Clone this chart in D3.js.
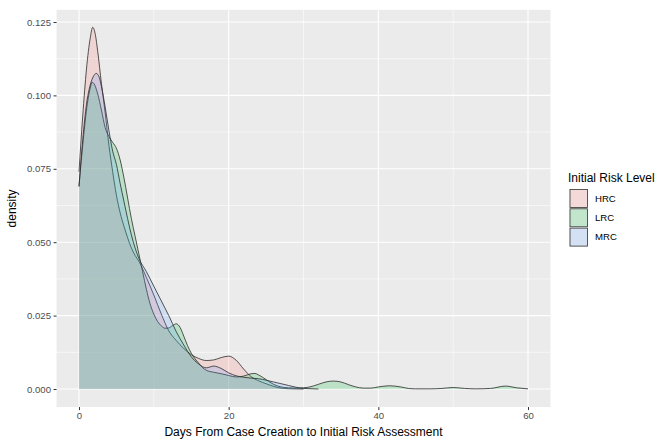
<!DOCTYPE html>
<html><head><meta charset="utf-8">
<script src="https://cdn.jsdelivr.net/npm/d3@7"></script>
<style>html,body{margin:0;padding:0;background:#fff;}svg{display:block;font-family:"Liberation Sans",Arial,sans-serif;}</style>
</head><body><svg id="c" width="657" height="440"></svg>
<script>
const seriesNames = ["HRC", "LRC", "MRC"];
const seriesColors = ["#F8766D", "#00BA38", "#619CFF"];
const xTicks = [0, 20, 40, 60];
const yTicks = [0, 0.025, 0.05, 0.075, 0.1, 0.125];
const yTickLabels = ["0.000", "0.025", "0.050", "0.075", "0.100", "0.125"];

const hrcDays = [0,0.5,1,1.5,1.83,2.2,2.5,3,3.5,4,4.5,5,5.5,6,6.5,7,7.5,8,9,10,11,12,13,14,15,16,17,18,19,20,21,22,23,24,25,26,27,28,29,30];
const hrcDensity = [0.074,0.093,0.109,0.1195,0.1232,0.1205,0.115,0.104,0.094,0.083,0.074,0.066,0.060,0.0555,0.0515,0.048,0.0455,0.0435,0.038,0.032,0.0255,0.0198,0.0165,0.0138,0.0117,0.0104,0.0097,0.0099,0.0107,0.0112,0.0098,0.0068,0.0042,0.0028,0.0018,0.0009,0.0003,0.0001,0.00003,0];

const lrcDays = [0,0.5,1,1.5,1.75,2,2.5,3,3.5,4,4.5,5,5.5,6,6.5,7,7.5,8,8.5,9,9.5,10,10.5,11,11.5,12,12.5,13,13.5,14,14.5,15,15.5,16,16.5,17,18,19,20,21,22,23,23.5,24,25,26,27,28,29,30,31,32,33,34,35,36,37,38,39,40,41.5,43,44,45,47,48.5,50,51.5,53,55,57,58.5,60];
const lrcDensity = [0.069,0.083,0.095,0.1025,0.1045,0.104,0.1005,0.095,0.089,0.086,0.084,0.082,0.078,0.072,0.065,0.058,0.052,0.046,0.040,0.034,0.029,0.0255,0.023,0.0215,0.0207,0.0208,0.0216,0.0222,0.021,0.018,0.0148,0.0122,0.0103,0.0088,0.0073,0.0064,0.0057,0.0052,0.0046,0.0041,0.0044,0.0052,0.0053,0.0048,0.0032,0.0016,0.0007,0.0004,0.0003,0.0004,0.0008,0.0016,0.0024,0.0027,0.0024,0.0015,0.0007,0.0003,0.0003,0.0007,0.0011,0.0007,0.0002,0.00005,0.00005,0.0002,0.0005,0.0002,0.00005,0.0002,0.001,0.0004,0.00005];

const mrcDays = [0,0.5,1,1.5,2,2.3,2.7,3,3.5,4,4.5,5,5.5,6,6.5,7,7.5,8,9,10,11,12,13,14,15,16,17,18,19,20,21,22,23,24,25,26,27,28,29,30,31,32];
const mrcDensity = [0.069,0.085,0.097,0.1035,0.1068,0.1075,0.1062,0.103,0.096,0.088,0.081,0.0765,0.070,0.064,0.058,0.0525,0.048,0.0445,0.040,0.035,0.030,0.025,0.0195,0.015,0.011,0.0085,0.0072,0.0078,0.0070,0.0055,0.0045,0.004,0.0037,0.0035,0.003,0.0024,0.0018,0.0012,0.0006,0.0002,0.0001,0];

const series = [
  {name: seriesNames[0], color: seriesColors[0], pts: d3.zip(hrcDays, hrcDensity)},
  {name: seriesNames[1], color: seriesColors[1], pts: d3.zip(lrcDays, lrcDensity)},
  {name: seriesNames[2], color: seriesColors[2], pts: d3.zip(mrcDays, mrcDensity)}
];

const svg = d3.select("#c");
const x = d3.scaleLinear().domain([0, 60]).range([79, 528]);
const y = d3.scaleLinear().domain([0, 0.125]).range([389, 22]);
const xMin = -3, xMax = 63, yMin = -0.00615, yMax = 0.12915;
const pL = x(xMin), pR = x(xMax), pT = y(yMax), pB = y(yMin);

svg.append("rect").attr("x", pL).attr("y", pT).attr("width", pR - pL).attr("height", pB - pT).attr("fill", "#EBEBEB");

const g = svg.append("g");
// minor grid
[10, 30, 50].forEach(v => g.append("line").attr("x1", x(v)).attr("x2", x(v)).attr("y1", pT).attr("y2", pB).attr("stroke", "#fff").attr("stroke-width", 0.55));
d3.range(0.0125, 0.13, 0.025).forEach(v => g.append("line").attr("x1", pL).attr("x2", pR).attr("y1", y(v)).attr("y2", y(v)).attr("stroke", "#fff").attr("stroke-width", 0.55));
// major grid
xTicks.forEach(v => g.append("line").attr("x1", x(v)).attr("x2", x(v)).attr("y1", pT).attr("y2", pB).attr("stroke", "#fff").attr("stroke-width", 1.1));
yTicks.forEach(v => g.append("line").attr("x1", pL).attr("x2", pR).attr("y1", y(v)).attr("y2", y(v)).attr("stroke", "#fff").attr("stroke-width", 1.1));

const area = d3.area().x(d => x(d[0])).y0(y(0)).y1(d => y(d[1])).curve(d3.curveMonotoneX);
const line = d3.line().x(d => x(d[0])).y(d => y(d[1])).curve(d3.curveMonotoneX);
series.forEach(s => {
  g.append("path").attr("d", area(s.pts)).attr("fill", s.color).attr("fill-opacity", 0.2);
  g.append("path").attr("d", line(s.pts)).attr("fill", "none").attr("stroke", "#2b2b2b").attr("stroke-width", 0.8);
});

// axes
const xAxis = svg.append("g").attr("transform", `translate(0,${pB})`)
  .call(d3.axisBottom(x).tickValues(xTicks).tickSize(3).tickPadding(2));
const yAxis = svg.append("g").attr("transform", `translate(${pL},0)`)
  .call(d3.axisLeft(y).tickValues(yTicks).tickFormat((d, i) => yTickLabels[i]).tickSize(3).tickPadding(2.5));
[xAxis, yAxis].forEach(a => {
  a.select(".domain").remove();
  a.selectAll(".tick line").attr("stroke", "#333").attr("stroke-width", 1);
  a.selectAll("text").attr("fill", "#4D4D4D").style("font-size", "9.6px").style("font-family", "Liberation Sans, Arial, sans-serif");
});

svg.append("text").attr("x", (pL + pR) / 2).attr("y", 436).attr("text-anchor", "middle")
  .style("font-size", "12px").attr("fill", "#000").text("Days From Case Creation to Initial Risk Assessment");
svg.append("text").attr("transform", `translate(16,${(pT + pB) / 2}) rotate(-90)`).attr("text-anchor", "middle")
  .style("font-size", "12px").attr("fill", "#000").text("density");

// legend
const lg = svg.append("g");
lg.append("text").attr("x", 568).attr("y", 182).style("font-size", "12px").attr("fill", "#000").text("Initial Risk Level");
series.forEach((s, i) => {
  const ky = 189 + i * 19.3;
  lg.append("rect").attr("x", 569).attr("y", ky).attr("width", 19).attr("height", 19).attr("fill", "#F2F2F2");
  lg.append("rect").attr("x", 570).attr("y", ky + 0.5).attr("width", 17.5).attr("height", 18).attr("fill", s.color).attr("fill-opacity", 0.2)
    .attr("stroke", "#333").attr("stroke-width", 0.8);
  lg.append("text").attr("x", 595).attr("y", ky + 9.5).attr("dy", "0.35em").style("font-size", "9.6px").attr("fill", "#000").text(s.name);
});
</script></body></html>
